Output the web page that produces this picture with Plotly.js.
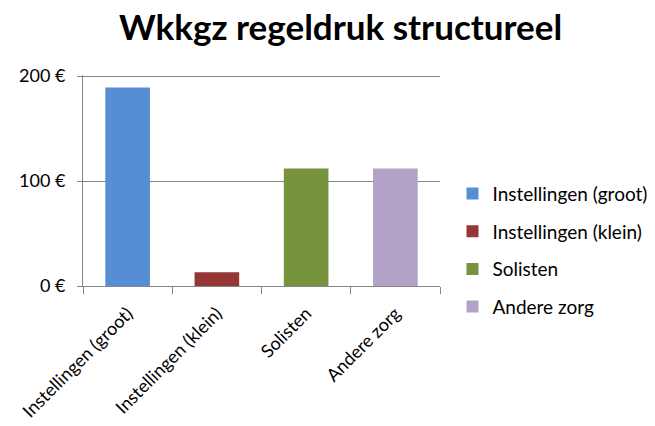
<!DOCTYPE html>
<html>
<head>
<meta charset="utf-8">
<script src="https://cdn.plot.ly/plotly-3.0.1.min.js"></script>
<style>html,body{margin:0;padding:0;background:#fff;}#chart{width:655px;height:426px;}</style>
</head>
<body>
<div id="chart"></div>
<script>
const categories = ["Instellingen (groot)", "Instellingen (klein)", "Solisten", "Andere zorg"];
const values = [189, 13, 112, 112];
const colors = ["#558ED5", "#953735", "#77933C", "#B3A2C7"];
const yTicks = [0, 100, 200];
const yTickLabels = ["0 €", "100 €", "200 €"];

const font = "Lato, 'Open Sans', sans-serif";
const traces = categories.map((c, i) => ({
  type: "bar",
  name: c,
  x: [c],
  y: [values[i]],
  width: 0.5,
  marker: {color: colors[i]},
  legendgroup: "g" + i,
  hoverinfo: "none"
}));

const layout = {
  width: 655, height: 426,
  margin: {l: 83, r: 215, t: 75, b: 140, autoexpand: false},
  paper_bgcolor: "#fff", plot_bgcolor: "#fff",
  barmode: "overlay",
  font: {family: font, size: 19, color: "#000"},
  title: {text: "<b>Wkkgz regeldruk structureel</b>", x: 0.52, xanchor: "center", y: 0.935, yanchor: "middle",
          font: {family: font, size: 35, color: "#000"}},
  xaxis: {
    type: "category", categoryorder: "array", categoryarray: categories,
    tickangle: -45, tickson: "boundaries", ticks: "outside", ticklen: 7, tickcolor: "#868686",
    ticklabelstandoff: 9,
    showline: true, linecolor: "#868686", linewidth: 1, showgrid: false,
    tickfont: {family: font, size: 18, color: "#000"}
  },
  yaxis: {
    range: [0, 201], tickvals: yTicks, ticktext: yTickLabels,
    ticks: "outside", ticklen: 5, tickcolor: "#868686",
    ticklabelstandoff: 8,
    showline: true, linecolor: "#868686", linewidth: 1,
    showgrid: true, gridcolor: "#868686", gridwidth: 1, zeroline: false,
    tickfont: {family: font, size: 18, color: "#000"}
  },
  showlegend: true,
  legend: {x: 1.035, y: 0.17, xanchor: "left", yanchor: "middle", traceorder: "grouped", tracegroupgap: 10,
           font: {family: font, size: 19, color: "#000"}, itemwidth: 30}
};

Plotly.newPlot("chart", traces, layout, {displayModeBar: false, staticPlot: true});
</script>
</body>
</html>
